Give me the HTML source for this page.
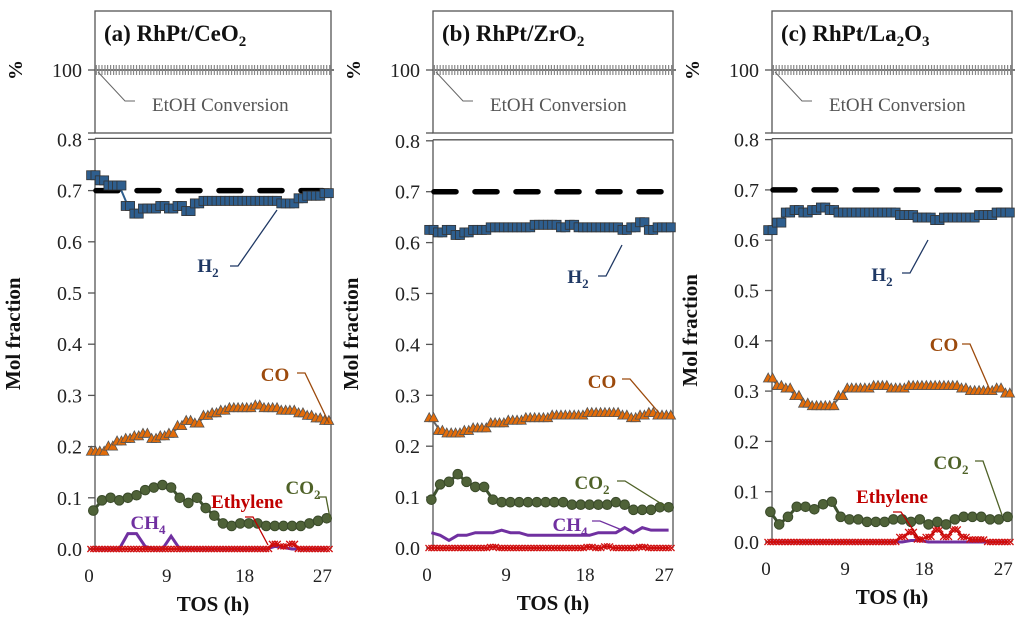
<!DOCTYPE html>
<html><head><meta charset="utf-8"><style>
html,body{margin:0;padding:0;background:#fff;}
svg{display:block;font-family:"Liberation Serif",serif;}
</style></head><body>
<svg id="chart" width="1024" height="624" viewBox="0 0 1024 624" xmlns="http://www.w3.org/2000/svg"></svg>
<script>
const hours = [0.5,1.5,2.5,3.5,4.5,5.5,6.5,7.5,8.5,9.5,10.5,11.5,12.5,13.5,14.5,15.5,16.5,17.5,18.5,19.5,20.5,21.5,22.5,23.5,24.5,25.5,26.5,27.5];
const xTicks = [0,9,18,27];
const yTicks = [0,0.1,0.2,0.3,0.4,0.5,0.6,0.7,0.8];
const yTickLabels = ["0.0","0.1","0.2","0.3","0.4","0.5","0.6","0.7","0.8"];
const equilibriumH2 = 0.7;
const conversionValue = 100;

const aH2 = [0.73,0.72,0.71,0.71,0.67,0.655,0.665,0.665,0.67,0.665,0.67,0.66,0.675,0.68,0.68,0.68,0.68,0.68,0.68,0.68,0.68,0.68,0.675,0.675,0.685,0.69,0.69,0.695];
const aCO = [0.19,0.19,0.20,0.21,0.215,0.22,0.225,0.215,0.22,0.225,0.24,0.25,0.245,0.26,0.265,0.27,0.275,0.275,0.275,0.28,0.275,0.275,0.27,0.27,0.265,0.26,0.255,0.25];
const aCO2 = [0.075,0.095,0.10,0.095,0.10,0.105,0.115,0.12,0.125,0.12,0.10,0.09,0.10,0.08,0.065,0.05,0.045,0.05,0.05,0.05,0.045,0.045,0.045,0.045,0.045,0.05,0.055,0.06];
const aCH4 = [0,0,0,0,0.03,0.03,0.005,0,0,0.025,0,0,0,0,0,0,0,0,0,0,0,0.005,0.003,0,0,0,0,0];
const aEth = [0,0,0,0,0,0,0,0,0,0,0,0,0,0,0,0,0,0,0,0,0,0.01,0.005,0.01,0,0,0,0];

const bH2 = [0.625,0.62,0.625,0.615,0.62,0.625,0.625,0.63,0.63,0.63,0.63,0.63,0.635,0.635,0.635,0.63,0.635,0.63,0.63,0.63,0.63,0.63,0.625,0.63,0.64,0.625,0.63,0.63];
const bCO = [0.255,0.23,0.225,0.225,0.23,0.235,0.235,0.245,0.245,0.25,0.25,0.255,0.255,0.255,0.26,0.26,0.26,0.26,0.265,0.265,0.265,0.265,0.26,0.255,0.26,0.265,0.26,0.26];
const bCO2 = [0.095,0.125,0.13,0.145,0.13,0.12,0.12,0.095,0.09,0.09,0.09,0.09,0.09,0.09,0.09,0.09,0.085,0.085,0.085,0.085,0.085,0.09,0.085,0.075,0.075,0.075,0.08,0.08];
const bCH4 = [0.03,0.025,0.015,0.025,0.025,0.03,0.03,0.03,0.035,0.03,0.03,0.025,0.025,0.025,0.025,0.025,0.025,0.025,0.025,0.03,0.03,0.03,0.04,0.03,0.04,0.035,0.035,0.035];
const bEth = [0,0,0,0,0,0,0,0.002,0,0,0,0,0,0,0,0,0,0,0.002,0,0.003,0,0,0,0.002,0,0,0];

const cH2 = [0.62,0.635,0.655,0.66,0.655,0.66,0.665,0.66,0.655,0.655,0.655,0.655,0.655,0.655,0.655,0.65,0.65,0.645,0.645,0.64,0.645,0.645,0.645,0.645,0.65,0.65,0.655,0.655];
const cCO = [0.325,0.31,0.305,0.29,0.275,0.27,0.27,0.27,0.29,0.305,0.305,0.305,0.31,0.31,0.305,0.305,0.31,0.31,0.31,0.31,0.31,0.31,0.305,0.30,0.30,0.30,0.305,0.295];
const cCO2 = [0.06,0.035,0.05,0.07,0.07,0.065,0.075,0.08,0.05,0.045,0.045,0.04,0.04,0.04,0.045,0.045,0.04,0.045,0.035,0.04,0.035,0.045,0.05,0.05,0.05,0.045,0.045,0.05];
const cCH4 = [0,0,0,0,0,0,0,0,0,0,0,0,0,0,0,0,0.003,0.003,0,0,0,0,0,0,0,0,0,0];
const cEth = [0,0,0,0,0,0,0,0,0,0,0,0,0,0,0,0.01,0.02,0.005,0.01,0.025,0.01,0.025,0.01,0.005,0.005,0,0,0];

const NS = "http://www.w3.org/2000/svg";
const svg = document.getElementById('chart');
function mk(tag, attrs, parent){
  const e = document.createElementNS(NS, tag);
  for (const k in attrs) e.setAttribute(k, attrs[k]);
  (parent||svg).appendChild(e);
  return e;
}
function txt(s, attrs, parent){ const e = mk('text', attrs, parent); e.textContent = s; return e; }

const panels = [
 {id:'a', title:'(a) RhPt/CeO', sub:'2', sub2:'', left:95, right:331, y0:549, py:512, d:[aH2,aCO,aCO2,aCH4,aEth],
  labels:[['H2',208,272,[[230,266],[277,210]]],['CO',275,381,[[297,373],[329,423]]],['CO2',303,494,[[318,497],[330,518]]],['Ethylene',247,508,[[245,517],[268,545]]],['CH4',148,529,null]]},
 {id:'b', title:'(b) RhPt/ZrO', sub:'2', sub2:'', left:433, right:673, y0:548, py:509, d:[bH2,bCO,bCO2,bCH4,bEth],
  labels:[['H2',578,283,[[598,276],[622,245]]],['CO',602,388,[[622,379],[660,414]]],['CO2',592,489,[[617,481],[665,506]]],['CH4',570,531,[[592,521],[622,530]]]]},
 {id:'c', title:'(c) RhPt/La', sub:'2', sub2:'O', left:772, right:1012, y0:542, py:503, d:[cH2,cCO,cCO2,cCH4,cEth],
  labels:[['H2',882,281,[[902,273],[928,240]]],['CO',944,351,[[962,344],[990,390]]],['CO2',951,469,[[975,461],[1002,515]]],['Ethylene',892,503,[[893,512],[920,540]]]]}
];
const styles = {
 H2:{fill:'#2e5e8e', stroke:'#333', line:'#2e5e8e', lab:'#1f3864'},
 CO:{fill:'#e36c09', stroke:'#555', line:'#e36c09', lab:'#9c4a0c'},
 CO2:{fill:'#4f6238', stroke:'#3a4a2a', line:'#3f5230', lab:'#4f6228'},
 CH4:{line:'#7030a0', lab:'#7030a0'},
 Eth:{line:'#c00000', lab:'#c00000'}
};

panels.forEach(p => {
  const g = mk('g', {});
  
  
  const xs = (p.right - p.left + 6) / 28;
  const X = t => p.left - 6 + t * xs;
  const Y = v => p.y0 - v * p.py;

  // top box
  const tb = mk('rect', {x:p.left, y:11, width:p.right-p.left, height:122, fill:'none', stroke:'#555', 'stroke-width':1.3}, g);
  
  
  const tt = txt('', {x:p.left+9, y:41, 'font-size':23, 'font-weight':'bold', fill:'#111'}, g);
  
  
  tt.textContent = p.title;
  const ts = mk('tspan', {'font-size':15, dy:5}, tt); ts.textContent = p.sub;
  if (p.sub2){ const t2 = mk('tspan', {'font-size':23, dy:-5}, tt); t2.textContent = p.sub2;
    const t3 = mk('tspan', {'font-size':15, dy:5}, tt); t3.textContent = '3'; }
  // conversion
  const yc = 70;
  mk('line', {x1:p.left-7, x2:p.left, y1:yc, y2:yc, stroke:'#555', 'stroke-width':1.3}, g);
  const pl = txt('100', {x:p.left-13, y:yc+7, 'font-size':20, 'text-anchor':'end', fill:'#222'}, g);
  
  
  const pc = txt('%', {x:0, y:0, 'font-size':20, 'font-weight':'bold', 'text-anchor':'middle', transform:`translate(${p.left-73},${yc}) rotate(-90)`, fill:'#111'}, g);
  
  
  mk('line', {x1:p.left, x2:p.right+3, y1:yc, y2:yc, stroke:'#777', 'stroke-width':2}, g);
  hours.forEach(t => {
    for (let k=0;k<3;k++){
      const xx = X(t) - 3 + k*3;
      if (xx < p.left || xx > p.right+2) continue;
      const m = mk('line', {x1:xx, x2:xx, y1:yc-5, y2:yc+5, stroke:'#888', 'stroke-width':1.2}, g);
    }
  });
  mk('polyline', {points:`${p.left+3},${yc+2} ${p.left+30},${yc+31} ${p.left+40},${yc+31}`, fill:'none', stroke:'#666', 'stroke-width':1}, g);
  const cl = txt('EtOH Conversion', {x:p.left+57, y:yc+41, 'font-size':19, fill:'#555'}, g);
  
  

  // main box
  const top = Y(0.8) - 1;
  mk('line', {x1:p.left, x2:p.left, y1:top, y2:p.y0, stroke:'#555', 'stroke-width':1.3}, g);
  mk('line', {x1:p.right, x2:p.right, y1:top, y2:p.y0, stroke:'#555', 'stroke-width':1.3}, g);
  mk('line', {x1:p.left, x2:p.right, y1:top, y2:top, stroke:'#555', 'stroke-width':1.3}, g);
  mk('line', {x1:p.left-7, x2:p.left, y1:133, y2:133, stroke:'#555', 'stroke-width':1.3}, g);
  yTicks.forEach((v,i) => {
    mk('line', {x1:p.left-7, x2:p.left, y1:Y(v), y2:Y(v), stroke:'#555', 'stroke-width':1.3}, g);
    const l = txt(yTickLabels[i], {x:p.left-13, y:Y(v)+7, 'font-size':20, 'text-anchor':'end', fill:'#222'}, g);
    
    
  });
  xTicks.forEach(t => {
    const l = txt(String(t), {x:X(t), y:p.y0+33, 'font-size':19, 'text-anchor':'middle', fill:'#222'}, g);
    
    
  });
  const xt = txt('TOS (h)', {x:(p.left+p.right)/2, y:p.y0+62, 'font-size':21, 'font-weight':'bold', 'text-anchor':'middle', fill:'#111'}, g);
  
  
  const yt = txt('Mol fraction', {x:0, y:0, 'font-size':21, 'font-weight':'bold', 'text-anchor':'middle', transform:`translate(${p.left-75},${(top+p.y0)/2-10}) rotate(-90)`, fill:'#111'}, g);
  
  

  // equilibrium dashed line
  const eq = mk('line', {x1:p.left+1, x2:p.right-2, y1:Y(equilibriumH2), y2:Y(equilibriumH2), stroke:'#000', 'stroke-width':5.5, 'stroke-dasharray':'22 19', 'stroke-linecap':'round'}, g);
  
  

  const [h2, co, co2, ch4, eth] = p.d;
  const pts = arr => arr.map((v,i) => `${X(hours[i])},${Y(v)}`).join(' ');
  // CH4 line
  const l4 = mk('polyline', {points:pts(ch4), fill:'none', stroke:styles.CH4.line, 'stroke-width':3}, g);
  
  
  // ethylene
  const le = mk('polyline', {points:pts(eth), fill:'none', stroke:styles.Eth.line, 'stroke-width':2}, g);
  
  
  eth.forEach((v,i) => {
    for (let k=-1;k<=1;k++){
      const cx = X(hours[i]) + k*2.9, cy = Y(v);
      mk('path', {d:`M${cx-3},${cy-3}L${cx+3},${cy+3}M${cx-3},${cy+3}L${cx+3},${cy-3}`, stroke:'#d01010', 'stroke-width':1.3}, g);
    }
  });
  // CO2
  const lc2 = mk('polyline', {points:pts(co2), fill:'none', stroke:styles.CO2.line, 'stroke-width':3}, g);
  
  
  co2.forEach((v,i) => {
    const m = mk('circle', {cx:X(hours[i]), cy:Y(v), r:4.8, fill:styles.CO2.fill, stroke:styles.CO2.stroke, 'stroke-width':1}, g);
    
    
  });
  // CO
  const lco = mk('polyline', {points:pts(co), fill:'none', stroke:'#666', 'stroke-width':2}, g);
  
  
  co.forEach((v,i) => {
    const cx = X(hours[i]), cy = Y(v);
    for (let k=-1;k<=1;k+=2){
      const m = mk('path', {d:`M${cx+k*2.2},${cy-5.5}L${cx+k*2.2+4.8},${cy+3.5}L${cx+k*2.2-4.8},${cy+3.5}Z`, fill:styles.CO.fill, stroke:styles.CO.stroke, 'stroke-width':0.8}, g);
      
      
    }
  });
  // H2
  const lh = mk('polyline', {points:pts(h2), fill:'none', stroke:styles.H2.line, 'stroke-width':2}, g);
  
  
  h2.forEach((v,i) => {
    const cx = X(hours[i]), cy = Y(v);
    for (let k=-1;k<=1;k+=2){
      const m = mk('rect', {x:cx+k*2.2-4.5, y:cy-4.5, width:9, height:9, fill:styles.H2.fill, stroke:styles.H2.stroke, 'stroke-width':0.8}, g);
      
      
    }
  });

  // labels
  p.labels.forEach(([name, x, y, lead]) => {
    const key = name === 'Ethylene' ? 'Eth' : name;
    const col = styles[key].lab;
    if (lead) mk('polyline', {points:`${lead[0][0]},${lead[0][1]} ${lead[0][0]+8},${lead[0][1]} ${lead[1][0]},${lead[1][1]}`, fill:'none', stroke:col, 'stroke-width':1.3}, g);
    const t = txt('', {x:x, y:y, 'font-size':19, 'font-weight':'bold', 'text-anchor':'middle', fill:col}, g);
    
    
    const m = name.match(/^([A-Za-z]+?)(\d)?$/);
    if (name === 'Ethylene') t.textContent = 'Ethylene';
    else {
      const base = name.replace(/\d$/, '');
      const d = name.match(/\d$/);
      const s1 = mk('tspan', {}, t); s1.textContent = base;
      if (d){ const s2 = mk('tspan', {'font-size':13, dy:5}, t); s2.textContent = d[0]; }
    }
  });
});
</script>
</body></html>
